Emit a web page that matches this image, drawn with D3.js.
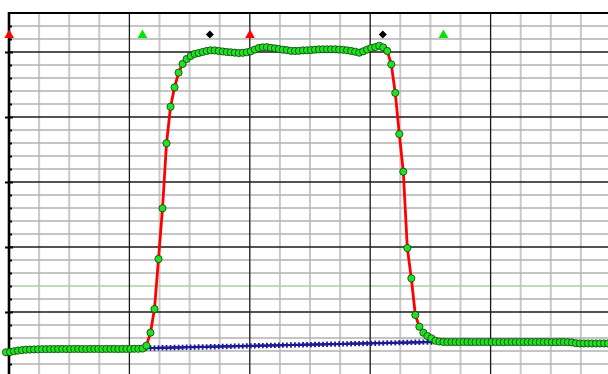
<!DOCTYPE html>
<html>
<head>
<meta charset="utf-8">
<script src="https://cdn.jsdelivr.net/npm/d3@7"></script>
<style>
  html, body { margin: 0; padding: 0; background: #fff; overflow: hidden; }
</style>
</head>
<body>
<div id="chart"></div>
<script>
// measured signal, one sample per second, first sample at t = -1
const signalStart = -1;
const signal = [
  1.90, 1.92, 1.98, 2.03, 2.07, 2.10, 2.11, 2.12, 2.13, 2.14,
  2.14, 2.15, 2.15, 2.15, 2.16, 2.15, 2.15, 2.16, 2.16, 2.15, 2.15, 2.16,
  2.16, 2.16, 2.15, 2.16, 2.16, 2.16, 2.15, 2.16, 2.16, 2.16, 2.17, 2.17,
  2.19,
  2.41, 3.41, 5.23, 9.08, 12.98, 17.98, 20.79, 22.28, 23.41, 24.08, 24.46, 24.69, 24.85, 24.92,
  25.00, 25.08, 25.13, 25.12, 25.08, 25.04, 25.00, 24.98, 24.95, 24.92, 24.94, 24.98,
  25.05, 25.19, 25.31, 25.36, 25.37, 25.32, 25.28, 25.23, 25.18, 25.14, 25.09, 25.08,
  25.09, 25.12, 25.13, 25.15, 25.18, 25.20, 25.21, 25.21, 25.21, 25.21, 25.19, 25.17,
  25.13, 25.08, 25.02, 24.95, 25.05, 25.19, 25.31, 25.38, 25.48, 25.35, 25.08, 24.05,
  21.85, 18.69, 15.79, 9.92, 7.59, 4.77, 3.87, 3.41, 3.15, 2.98, 2.79, 2.73,
  2.70, 2.69, 2.69, 2.69, 2.69, 2.70, 2.69, 2.69, 2.69, 2.69, 2.69, 2.69,
  2.69, 2.69, 2.69, 2.68, 2.69, 2.69, 2.69, 2.69, 2.69, 2.69, 2.69, 2.69,
  2.69, 2.69, 2.69, 2.68, 2.68, 2.69, 2.69, 2.68, 2.66,
  2.60, 2.58, 2.58, 2.58, 2.58, 2.58, 2.58, 2.58, 2.58
];

// reference (blue) trace, same sampling, starts at t = 34
const referenceStart = 34;
const reference = [
  2.22, 2.23, 2.23, 2.24, 2.25, 2.25, 2.26, 2.27, 2.27, 2.28, 2.29, 2.29,
  2.30, 2.31, 2.31, 2.32, 2.33, 2.33, 2.34, 2.35, 2.35, 2.36, 2.37, 2.37,
  2.38, 2.39, 2.39, 2.40, 2.41, 2.41, 2.42, 2.43, 2.43, 2.44, 2.45, 2.45,
  2.46, 2.47, 2.47, 2.48, 2.49, 2.49, 2.50, 2.51, 2.51, 2.52, 2.53, 2.53,
  2.54, 2.55, 2.55, 2.56, 2.57, 2.57, 2.58, 2.59, 2.59, 2.60, 2.61, 2.61,
  2.62, 2.63, 2.63, 2.64, 2.65, 2.65, 2.66, 2.67, 2.67, 2.68, 2.69, 2.69
];

// event markers along the top
const eventTimes = [-0.2, 33, 49.8, 59.8, 92.9, 108];
const eventKinds = ['red', 'green', 'diamond', 'red', 'diamond', 'green'];
const eventLevel = 26.3;

const W = 608, H = 374;

const x = d3.scaleLinear().domain([-0.25, 149.75]).range([9, 611]);
const y = d3.scaleLinear().domain([0, 28]).range([377, 13]);

const svg = d3.select('#chart').append('svg')
  .attr('width', W).attr('height', H)
  .style('display', 'block');

// grid
const xGrid = d3.range(-0.25, 150, 7.5);
const yGrid = d3.range(0, 28, 1);

svg.append('g').selectAll('line')
  .data(xGrid.filter((d, i) => i % 4 !== 0))
  .enter().append('line')
  .attr('x1', d => x(d)).attr('x2', d => x(d))
  .attr('y1', y(28)).attr('y2', H)
  .attr('stroke', '#c9c9c9').attr('stroke-width', 2);

svg.append('g').selectAll('line')
  .data(yGrid.filter(d => d % 5 !== 0))
  .enter().append('line')
  .attr('x1', x(-0.25)).attr('x2', W)
  .attr('y1', d => y(d)).attr('y2', d => y(d))
  .attr('stroke', d => d === 7 ? '#a6d0a6' : '#b2b2b2')
  .attr('stroke-width', 1.6);

svg.append('g').selectAll('line')
  .data(yGrid.filter(d => d % 5 === 0))
  .enter().append('line')
  .attr('x1', x(-0.25)).attr('x2', W)
  .attr('y1', d => y(d)).attr('y2', d => y(d))
  .attr('stroke', '#1a1a1a').attr('stroke-width', 1.3);

svg.append('g').selectAll('line')
  .data(xGrid.filter((d, i) => i % 4 === 0 && i > 0))
  .enter().append('line')
  .attr('x1', d => x(d)).attr('x2', d => x(d))
  .attr('y1', y(28)).attr('y2', H)
  .attr('stroke', '#1a1a1a').attr('stroke-width', 1.3);

// left axis with inside ticks
const yAxis = svg.append('g')
  .attr('transform', `translate(${x(-0.25)},0)`)
  .call(d3.axisRight(y).tickValues(yGrid).tickSize(3).tickFormat(''));
yAxis.select('.domain').remove();
yAxis.selectAll('.tick line').attr('stroke', '#000').attr('stroke-width', 2)
  .attr('x1', d => d % 5 === 0 ? -4 : 0).attr('x2', d => d % 5 === 0 ? 4 : 3);

svg.append('line')
  .attr('x1', x(-0.25)).attr('x2', x(-0.25))
  .attr('y1', y(28) - 1).attr('y2', H)
  .attr('stroke', '#000').attr('stroke-width', 2.6);

svg.append('line')
  .attr('x1', x(-0.25) - 1).attr('x2', W)
  .attr('y1', y(28)).attr('y2', y(28))
  .attr('stroke', '#000').attr('stroke-width', 2.2);

// reference trace
const refData = reference.map((v, i) => ({ t: referenceStart + i, v }));
svg.append('path')
  .datum(refData)
  .attr('fill', 'none')
  .attr('stroke', '#1b1b96')
  .attr('stroke-width', 2.2)
  .attr('d', d3.line().x(d => x(d.t)).y(d => y(d.v)));
svg.append('g').selectAll('path')
  .data(refData)
  .enter().append('path')
  .attr('transform', d => `translate(${x(d.t)},${y(d.v)})`)
  .attr('d', d3.symbol().type(d3.symbolCross).size(16))
  .attr('fill', '#1b1b96');

// signal trace
const sigData = signal.map((v, i) => ({ t: signalStart + i, v }));
svg.append('path')
  .datum(sigData)
  .attr('fill', 'none')
  .attr('stroke', '#ff0000')
  .attr('stroke-width', 2.8)
  .attr('stroke-linejoin', 'round')
  .attr('d', d3.line().x(d => x(d.t)).y(d => y(d.v)));
svg.append('g').selectAll('circle')
  .data(sigData)
  .enter().append('circle')
  .attr('cx', d => x(d.t))
  .attr('cy', d => y(d.v))
  .attr('r', 3.6)
  .attr('fill', '#22e022')
  .attr('stroke', '#0d3d0d')
  .attr('stroke-width', 0.8);

// event markers (diamond = square turned 45deg)
const events = eventTimes.map((t, i) => ({ t, kind: eventKinds[i] }));
svg.append('g').selectAll('path')
  .data(events)
  .enter().append('path')
  .attr('transform', d => `translate(${x(d.t)},${y(eventLevel) - (d.kind === 'diamond' ? 0.7 : 0)})` +
    (d.kind === 'diamond' ? ' rotate(45)' : ''))
  .attr('d', d => d3.symbol()
    .type(d.kind === 'diamond' ? d3.symbolSquare : d3.symbolTriangle)
    .size(d.kind === 'diamond' ? 32 : 40)())
  .attr('fill', d => d.kind === 'red' ? '#ff0000' : d.kind === 'green' ? '#00e600' : '#000');
</script>
</body>
</html>
